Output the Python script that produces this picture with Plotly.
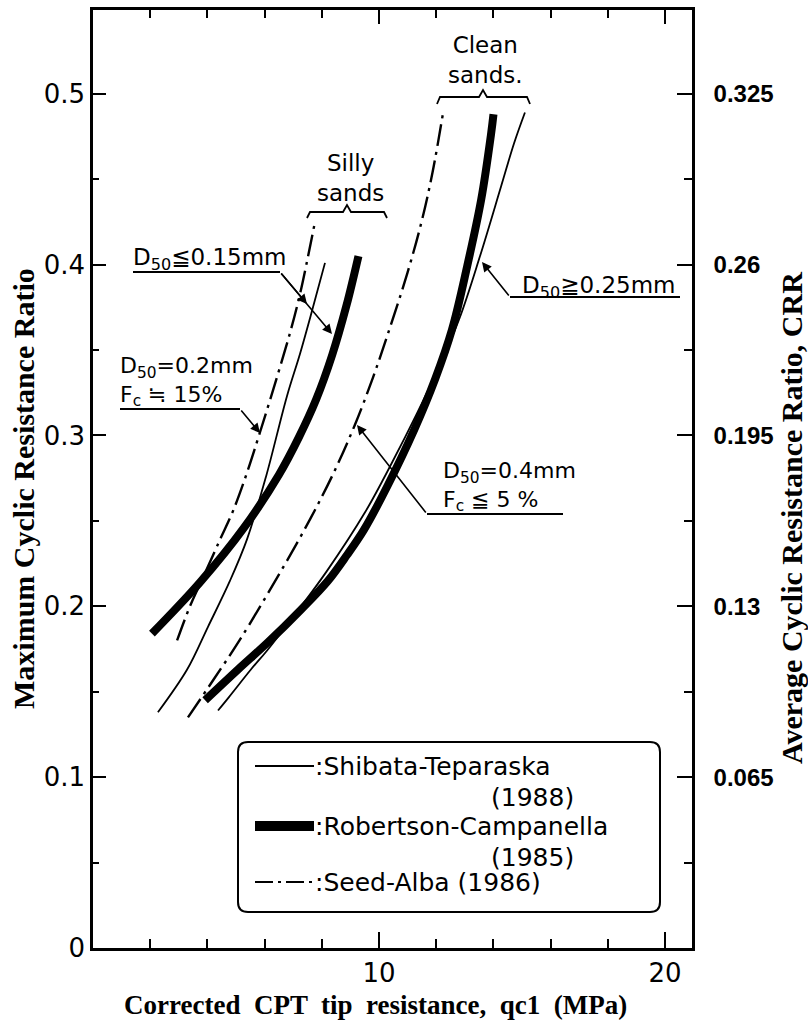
import plotly.graph_objects as go

# ---------------- data ----------------
# Silty sands group
shibata_silty_q = [2.27, 3.29, 4.02, 4.79, 5.38, 6.05, 6.78, 7.24, 7.69, 8.11]
shibata_silty_r = [0.138, 0.163, 0.188, 0.215, 0.239, 0.276, 0.323, 0.348, 0.375, 0.401]

robertson_silty_q = [2.06, 3.74, 5.28, 6.50, 7.20, 7.80, 8.36, 8.86, 9.28]
robertson_silty_r = [0.184, 0.214, 0.246, 0.277, 0.299, 0.321, 0.347, 0.376, 0.405]

seed_silty_q = [2.94, 3.39, 3.85, 4.44, 4.90, 5.38, 5.84, 6.43, 6.92, 7.24, 7.52, 7.76]
seed_silty_r = [0.180, 0.200, 0.217, 0.239, 0.256, 0.278, 0.302, 0.334, 0.362, 0.383, 0.405, 0.425]

# Clean sands group
shibata_clean_q = [4.37, 4.76, 5.52, 6.08, 6.96, 8.15, 9.51, 10.45, 11.33, 12.01, 12.80, 13.53, 14.27, 14.72, 15.10]
shibata_clean_r = [0.139, 0.147, 0.163, 0.174, 0.193, 0.220, 0.255, 0.284, 0.313, 0.337, 0.368, 0.405, 0.446, 0.471, 0.489]

robertson_clean_q = [3.92, 5.07, 6.12, 7.27, 8.22, 8.88, 9.48, 10.28, 11.22, 11.96, 12.55, 13.08, 13.57, 13.92, 14.00]
robertson_clean_r = [0.145, 0.163, 0.179, 0.198, 0.215, 0.230, 0.245, 0.270, 0.303, 0.333, 0.362, 0.399, 0.438, 0.477, 0.488]

seed_clean_q = [3.32, 4.21, 5.12, 6.55, 7.59, 8.41, 9.15, 9.79, 10.30, 10.99, 11.50, 11.87, 12.24]
seed_clean_r = [0.135, 0.157, 0.180, 0.220, 0.251, 0.278, 0.306, 0.334, 0.359, 0.395, 0.426, 0.454, 0.489]

# axes
x_tickvals = [10, 20]
x_ticktext = ["10", "20"]
x_minor = [2, 4, 6, 8, 12, 14, 16, 18]
y_tickvals = [0, 0.1, 0.2, 0.3, 0.4, 0.5]
y_ticktext = ["0", "0.1", "0.2", "0.3", "0.4", "0.5"]
y_minor = [0.05, 0.15, 0.25, 0.35, 0.45]
crr_factor = 0.65
y2_tickvals = [0.065, 0.13, 0.195, 0.26, 0.325]
y2_ticktext = ["0.065", "0.13", "0.195", "0.26", "0.325"]
y2_minor = [0.0325, 0.0975, 0.1625, 0.2275, 0.2925]

XMAX = 20.94
YMAX = 0.549

# ---------------- layout helpers (pixel -> paper / data) ----------------
L, R, T, B = 93, 692, 10, 948


def px(x):
    return (x - L) / (R - L)


def py(y):
    return (B - y) / (B - T)


def dx(x):
    return px(x) * XMAX


def dy(y):
    return py(y) * YMAX


SANS = "DejaVu Sans"
SERIF = "Liberation Serif"
BLACK = "black"
DASHDOT = "22px,6px,3px,6px"

fig = go.Figure()

thin = dict(color=BLACK, width=1.8, shape="spline", smoothing=1.0)
thick = dict(color=BLACK, width=8, shape="spline", smoothing=1.0)
dd = dict(color=BLACK, width=2.4, dash=DASHDOT, shape="spline", smoothing=1.0)

fig.add_trace(go.Scatter(x=shibata_silty_q, y=shibata_silty_r, mode="lines", line=thin,
                         name="Shibata-Teparaska (1988), silty sands", showlegend=False))
fig.add_trace(go.Scatter(x=robertson_silty_q, y=robertson_silty_r, mode="lines", line=thick,
                         name="Robertson-Campanella (1985), silty sands", showlegend=False))
fig.add_trace(go.Scatter(x=seed_silty_q, y=seed_silty_r, mode="lines", line=dd,
                         name="Seed-Alba (1986), silty sands", showlegend=False))
fig.add_trace(go.Scatter(x=shibata_clean_q, y=shibata_clean_r, mode="lines", line=thin,
                         name="Shibata-Teparaska (1988), clean sands", showlegend=False))
fig.add_trace(go.Scatter(x=robertson_clean_q, y=robertson_clean_r, mode="lines", line=thick,
                         name="Robertson-Campanella (1985), clean sands", showlegend=False))
fig.add_trace(go.Scatter(x=seed_clean_q, y=seed_clean_r, mode="lines", line=dd,
                         name="Seed-Alba (1986), clean sands", showlegend=False))
# empty traces so that the secondary axes (CRR on the right, ticks on top) are drawn
fig.add_trace(go.Scatter(x=[], y=[], yaxis="y2", mode="lines", showlegend=False, hoverinfo="skip"))
fig.add_trace(go.Scatter(x=[], y=[], xaxis="x2", mode="lines", showlegend=False, hoverinfo="skip"))

shapes = []
annotations = []


def text(x, y, s, size=23, xanchor="center", family=SANS, **kw):
    annotations.append(dict(x=px(x), y=py(y), xref="paper", yref="paper", text=s,
                            showarrow=False, xanchor=xanchor, yanchor="middle",
                            font=dict(family=family, size=size, color=BLACK), **kw))


def line(x0, y0, x1, y1, width=1.8, dash=None):
    ln = dict(color=BLACK, width=width)
    if dash:
        ln["dash"] = dash
    shapes.append(dict(type="line", xref="paper", yref="paper", x0=px(x0), y0=py(y0),
                       x1=px(x1), y1=py(y1), line=ln))


def arrow(xt, yt, xh, yh):
    annotations.append(dict(x=dx(xh), y=dy(yh), xref="x", yref="y", ax=dx(xt), ay=dy(yt),
                            axref="x", ayref="y", text="", showarrow=True, arrowhead=2,
                            arrowsize=1.2, arrowwidth=1.6, arrowcolor=BLACK))


def path(points, width=1.8):
    d = "M " + " L ".join(f"{px(a):.5f},{py(b):.5f}" for a, b in points)
    shapes.append(dict(type="path", xref="paper", yref="paper", path=d,
                       line=dict(color=BLACK, width=width)))


# braces
path([(307, 218), (310, 212), (343, 212), (347, 205), (351, 212), (384, 212), (387, 218)])
path([(437, 104), (440, 97), (479, 97), (483, 90), (487, 97), (527, 97), (530, 104)])
text(350, 178, "Silly<br>sands", size=23)
text(485, 60, "Clean<br>sands.", size=23)

# D50 <= 0.15 mm
text(131, 259, "D<sub>50</sub>≦0.15mm", xanchor="left")
line(133, 272, 280, 272)
arrow(280, 272, 307, 304)
arrow(280, 272, 332, 334)

# D50 = 0.2 mm, Fc ~ 15 %
text(118, 381, "D<sub>50</sub>=0.2mm<br>F<sub>c</sub> ≒ 15%", xanchor="left", align="left", size=22)
line(120, 409, 240, 409)
arrow(240, 409, 260, 433)

# D50 >= 0.25 mm
text(520, 287, "D<sub>50</sub>≧0.25mm", xanchor="left")
line(510, 297, 680, 297)
arrow(510, 297, 482, 262)

# D50 = 0.4 mm, Fc <= 5 %
text(441, 486, "D<sub>50</sub>=0.4mm<br>F<sub>c</sub> ≦ 5 %", xanchor="left", align="left", size=22)
line(427, 514, 563, 514)
arrow(427, 514, 357, 425)

# legend box (rounded)
x0b, x1b, y0b, y1b, r = 238, 660, 742, 912, 10
box = (f"M {px(x0b + r)},{py(y0b)} L {px(x1b - r)},{py(y0b)} "
       f"Q {px(x1b)},{py(y0b)} {px(x1b)},{py(y0b + r)} L {px(x1b)},{py(y1b - r)} "
       f"Q {px(x1b)},{py(y1b)} {px(x1b - r)},{py(y1b)} L {px(x0b + r)},{py(y1b)} "
       f"Q {px(x0b)},{py(y1b)} {px(x0b)},{py(y1b - r)} L {px(x0b)},{py(y0b + r)} "
       f"Q {px(x0b)},{py(y0b)} {px(x0b + r)},{py(y0b)} Z")
shapes.append(dict(type="path", xref="paper", yref="paper", path=box,
                   line=dict(color=BLACK, width=2), fillcolor="white", layer="below"))
line(255, 766, 314, 766, width=1.8)
line(255, 826, 314, 826, width=10)
line(255, 882, 314, 882, width=2.2, dash="18px,5px,3px,5px")
text(313, 766, ":Shibata-Teparaska", xanchor="left", size=25)
text(532, 797, "(1988)", size=25)
text(313, 826, ":Robertson-Campanella", xanchor="left", size=25)
text(532, 857, "(1985)", size=25)
text(313, 882, ":Seed-Alba (1986)", xanchor="left", size=25)

# axis titles
annotations.append(dict(x=px(24), y=py(489), xref="paper", yref="paper",
                        text="Maximum Cyclic Resistance Ratio", textangle=-90, showarrow=False,
                        xanchor="center", yanchor="middle",
                        font=dict(family=SERIF, size=30, color=BLACK, weight="bold")))
annotations.append(dict(x=px(375), y=py(1005), xref="paper", yref="paper",
                        text="Corrected  CPT  tip  resistance,  qc1  (MPa)", showarrow=False,
                        xanchor="center", yanchor="middle",
                        font=dict(family=SERIF, size=27, color=BLACK, weight="bold")))
annotations.append(dict(x=px(791), y=py(518), xref="paper", yref="paper",
                        text="Average Cyclic Resistance Ratio, CRR", textangle=-90, showarrow=False,
                        xanchor="center", yanchor="middle",
                        font=dict(family=SERIF, size=30, color=BLACK, weight="bold")))

fig.update_layout(
    width=808, height=1024,
    margin=dict(l=L, r=808 - R, t=T, b=1024 - B),
    paper_bgcolor="white", plot_bgcolor="white",
    showlegend=False,
    shapes=shapes, annotations=annotations,
    xaxis=dict(range=[0, XMAX], showgrid=False, zeroline=False,
               showline=True, linecolor=BLACK, linewidth=2.5,
               ticks="inside", ticklen=16, tickwidth=2, tickcolor=BLACK,
               tickvals=x_tickvals, ticktext=x_ticktext,
               tickfont=dict(family=SANS, size=26, color=BLACK),
               minor=dict(tickvals=x_minor, ticks="inside", ticklen=9, tickwidth=2,
                          tickcolor=BLACK, showgrid=False)),
    xaxis2=dict(range=[0, XMAX], overlaying="x", side="top", anchor="y",
                showgrid=False, zeroline=False, showticklabels=False,
                showline=True, linecolor=BLACK, linewidth=2.5,
                ticks="inside", ticklen=14, tickwidth=2, tickcolor=BLACK,
                tickvals=x_tickvals,
                minor=dict(tickvals=x_minor, ticks="inside", ticklen=8, tickwidth=2,
                           tickcolor=BLACK, showgrid=False)),
    yaxis=dict(range=[0, YMAX], showgrid=False, zeroline=False,
               showline=True, linecolor=BLACK, linewidth=2.5,
               ticks="inside", ticklen=13, tickwidth=2, tickcolor=BLACK,
               tickvals=y_tickvals, ticktext=y_ticktext,
               tickfont=dict(family=SANS, size=26, color=BLACK),
               minor=dict(tickvals=y_minor, ticks="inside", ticklen=6, tickwidth=2,
                          tickcolor=BLACK, showgrid=False)),
    yaxis2=dict(range=[0, YMAX * crr_factor], overlaying="y", side="right", anchor="x",
                showgrid=False, zeroline=False,
                showline=True, linecolor=BLACK, linewidth=2.5,
                ticks="inside", ticklen=15, tickwidth=2, tickcolor=BLACK,
                tickvals=y2_tickvals, ticktext=y2_ticktext, ticklabelstandoff=14,
                tickfont=dict(family="Liberation Sans", size=24, color=BLACK, weight="bold"),
                minor=dict(tickvals=y2_minor, ticks="inside", ticklen=8, tickwidth=2,
                           tickcolor=BLACK, showgrid=False)),
)

fig.write_html("out.html")
